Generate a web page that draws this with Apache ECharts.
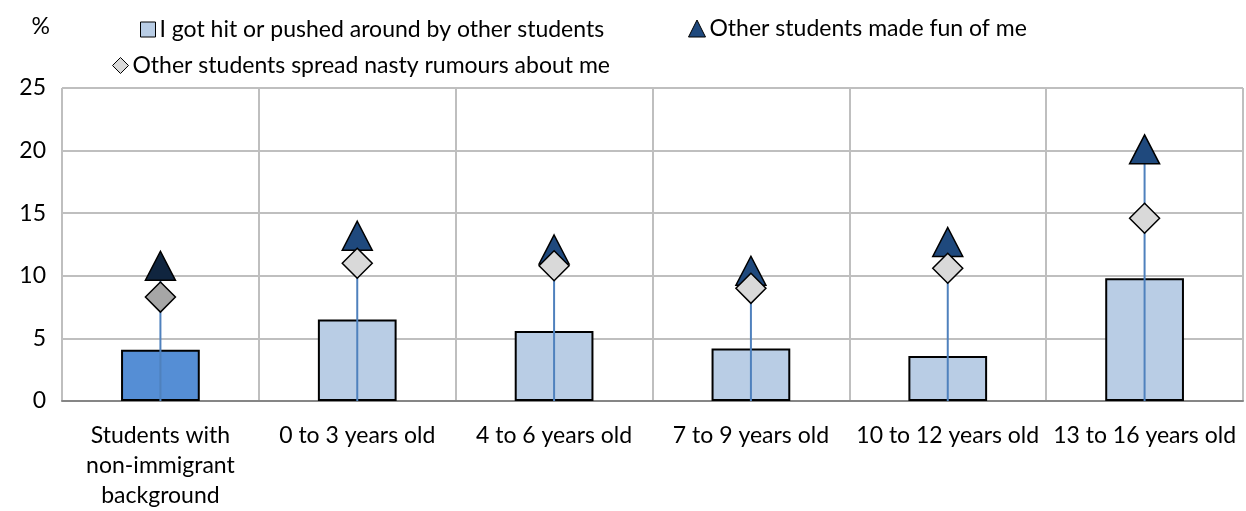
<!DOCTYPE html>
<html>
<head>
<meta charset="utf-8">
<script src="https://cdn.jsdelivr.net/npm/echarts@6/dist/echarts.min.js"></script>
<style>
  html, body { margin: 0; padding: 0; background: #fff; }
  #chart { width: 1246px; height: 511px; }
</style>
</head>
<body>
<div id="chart"></div>
<script>
var categories = ["Students with\nnon-immigrant\nbackground", "0 to 3 years old", "4 to 6 years old", "7 to 9 years old", "10 to 12 years old", "13 to 16 years old"];
var hitValues = [4.1, 6.5, 5.6, 4.2, 3.6, 9.8];
var funValues = [10.8, 13.2, 12.1, 10.4, 12.7, 20.1];
var rumourValues = [8.3, 11.0, 10.8, 9.0, 10.6, 14.6];
var yTicks = [0, 5, 10, 15, 20, 25];

var font = "Lato";
var font_size = 23;

var myChart = echarts.init(document.getElementById("chart"));

// first category is drawn darker
function colored(values, first, rest) {
  return values.map(function (v, i) {
    return { value: v, itemStyle: { color: i == 0 ? first : rest } };
  });
}

// high-low line from 0 to the top marker
var stemData = funValues.map(function (v, i) {
  return [i, Math.max(v, rumourValues[i])];
});

var legendText = { fontFamily: font, fontSize: font_size, color: "#000", padding: [0, 0, 0, -1] };

myChart.setOption({
  animation: false,
  textStyle: { fontFamily: font },
  grid: { left: 62, right: 3, top: 88, bottom: 109 },
  legend: [
    {
      left: 135, top: 13,
      itemWidth: 15, itemHeight: 15,
      textStyle: legendText,
      data: [{ name: "I got hit or pushed around by other students", icon: "rect",
        itemStyle: { color: "#B9CDE5", borderColor: "#000", borderWidth: 1 } }]
    },
    {
      left: 683, top: 12,
      itemWidth: 17, itemHeight: 17,
      textStyle: legendText,
      data: [{ name: "Other students made fun of me", icon: "triangle",
        itemStyle: { color: "#1F497D", borderColor: "#000", borderWidth: 1 } }]
    },
    {
      left: 107, top: 49,
      itemWidth: 16, itemHeight: 16,
      textStyle: legendText,
      data: [{ name: "Other students spread nasty rumours about me", icon: "diamond",
        itemStyle: { color: "#D9D9D9", borderColor: "#000", borderWidth: 1 } }]
    }
  ],
  xAxis: {
    type: "category",
    data: categories,
    axisLine: { lineStyle: { color: "#868686", width: 2 } },
    axisTick: { show: false },
    splitLine: { show: true, lineStyle: { color: "#BFBFBF", width: 2 } },
    axisLabel: {
      interval: 0,
      margin: 20,
      color: "#000",
      fontFamily: font,
      fontSize: font_size,
      lineHeight: 30
    }
  },
  yAxis: {
    type: "value",
    min: yTicks[0],
    max: yTicks[yTicks.length - 1],
    interval: 5,
    name: "%",
    nameLocation: "end",
    nameGap: 50,
    nameTextStyle: { color: "#000", fontFamily: font, fontSize: font_size, align: "right", padding: [0, 12, 0, 0] },
    axisLine: { show: false },
    axisTick: { show: false },
    splitLine: { show: true, lineStyle: { color: "#BFBFBF", width: 2 } },
    axisLabel: { color: "#000", fontFamily: font, fontSize: font_size, margin: 16 }
  },
  series: [
    {
      name: "I got hit or pushed around by other students",
      type: "bar",
      barWidth: "40%",
      z: 2,
      itemStyle: { borderColor: "#000", borderWidth: 2 },
      data: colored(hitValues, "#558ED5", "#B9CDE5")
    },
    {
      name: "stem",
      type: "custom",
      z: 3,
      silent: true,
      renderItem: function (params, api) {
        var p0 = api.coord([api.value(0), 0]);
        var p1 = api.coord([api.value(0), api.value(1)]);
        return {
          type: "line",
          shape: { x1: p0[0], y1: p0[1], x2: p1[0], y2: p1[1] },
          style: { stroke: "#4F81BD", lineWidth: 2 }
        };
      },
      data: stemData
    },
    {
      name: "Other students made fun of me",
      type: "scatter",
      symbol: "triangle",
      symbolSize: [30, 29],
      z: 4,
      itemStyle: { borderColor: "#000", borderWidth: 1.5, opacity: 1 },
      data: colored(funValues, "#10253F", "#1F497D")
    },
    {
      name: "Other students spread nasty rumours about me",
      type: "scatter",
      symbol: "diamond",
      symbolSize: [30, 30],
      z: 5,
      itemStyle: { borderColor: "#000", borderWidth: 1.5, opacity: 1 },
      data: colored(rumourValues, "#A6A6A6", "#D9D9D9")
    }
  ]
});
</script>
</body>
</html>
